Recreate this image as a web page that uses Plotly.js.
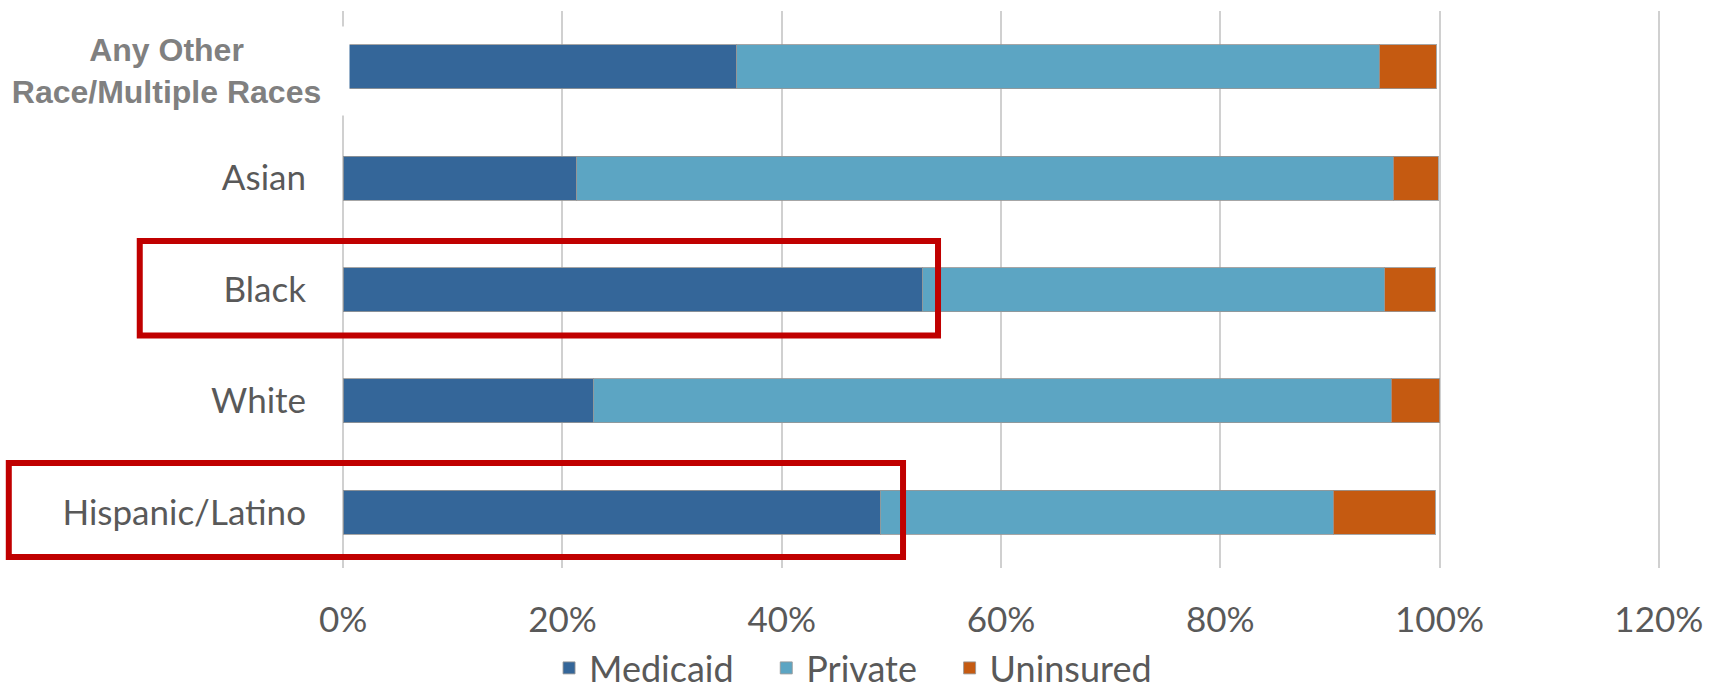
<!DOCTYPE html>
<html>
<head>
<meta charset="utf-8">
<script src="https://cdn.plot.ly/plotly-3.0.1.min.js"></script>
<style>html,body{margin:0;padding:0;background:#fff;}#chart{width:1719px;height:692px;}</style>
</head>
<body>
<div id="chart"></div>
<script>
// Categories (bottom to top)
const categories = ["Hispanic/Latino", "White", "Black", "Asian", "Any Other Race/Multiple Races"];
const medicaid  = [0.490, 0.228, 0.528, 0.213, 0.359];
const privateIns = [0.413, 0.728, 0.422, 0.745, 0.586];
const uninsured = [0.093, 0.044, 0.046, 0.041, 0.052];
const seriesNames = ["Medicaid", "Private", "Uninsured"];
const xTickVals = [0, 0.2, 0.4, 0.6, 0.8, 1.0, 1.2];
const xTickText = ["0%", "20%", "40%", "60%", "80%", "100%", "120%"];
const labelledCats = ["Hispanic/Latino", "White", "Black", "Asian"];
const boldLabel = "Any Other<br>Race/Multiple Races";

const FONT = "Lato, 'Open Sans', sans-serif";
const outline = {color: "rgba(150,150,150,0.85)", width: 1};
const pad = "\u00a0\u00a0\u00a0";

const traces = [
  {name: seriesNames[0] + pad, y: categories, x: medicaid, type: "bar", orientation: "h",
   marker: {color: "#346699", line: outline}, hoverinfo: "x+name"},
  {name: seriesNames[1] + pad, y: categories, x: privateIns, type: "bar", orientation: "h",
   marker: {color: "#5CA5C3", line: outline}, hoverinfo: "x+name"},
  {name: seriesNames[2], y: categories, x: uninsured, type: "bar", orientation: "h",
   marker: {color: "#C55A11", line: outline}, hoverinfo: "x+name"}
];

// x range slightly extended so edge gridlines (0% and 120%) are drawn
const EXT = 0.002;
const W = 1719, H = 692;
const X0PX = 343, X120PX = 1659;
const scale = (X120PX - X0PX) / 1.2;
const L = X0PX - EXT * scale, R = W - X120PX - EXT * scale, T = 11, B = 124;
const pw = W - L - R, ph = H - T - B;
function px2paperX(px) { return (px - L) / pw; }
function px2paperY(py) { return (H - B - py) / ph; }

const redBox = (x0, x1, y0, y1) => ({
  type: "rect", xref: "paper", yref: "paper",
  x0: px2paperX(x0), x1: px2paperX(x1), y0: px2paperY(y0), y1: px2paperY(y1),
  line: {color: "#C00000", width: 6}, fillcolor: "rgba(0,0,0,0)", layer: "above"
});

const layout = {
  width: W, height: H,
  margin: {l: L, r: R, t: T, b: B, pad: 0, autoexpand: false},
  paper_bgcolor: "#ffffff", plot_bgcolor: "#ffffff",
  barmode: "stack",
  bargap: 0.605,
  showlegend: true,
  legend: {orientation: "h", x: px2paperX(853), xanchor: "center",
           y: px2paperY(668), yanchor: "middle", borderwidth: 0,
           font: {family: FONT, size: 36, color: "#595959"},
           traceorder: "normal", itemwidth: 30},
  xaxis: {range: [-EXT, 1.2 + EXT], tickmode: "array", tickvals: xTickVals, ticktext: xTickText,
          showgrid: true, gridcolor: "#d0d0d0", gridwidth: 2, zeroline: false,
          showline: false, ticks: "", ticklabelstandoff: 28,
          tickfont: {family: FONT, size: 35, color: "#595959"}, fixedrange: true},
  yaxis: {type: "category", categoryorder: "array", categoryarray: categories,
          range: [-0.5, 4.5], tickmode: "array", tickvals: labelledCats, ticktext: labelledCats,
          showgrid: false, zeroline: false, showline: false, ticks: "", ticklabelstandoff: 34,
          tickfont: {family: FONT, size: 35, color: "#595959"}, fixedrange: true},
  annotations: [{
    text: "<b>" + boldLabel + "</b>", xref: "paper", yref: "y",
    x: px2paperX(166.5), y: 3.958, xanchor: "center", yanchor: "middle",
    showarrow: false, bgcolor: "#ffffff", width: 365, height: 88, borderpad: 0,
    align: "center", valign: "middle",
    font: {family: "'Liberation Sans', Arial, sans-serif", size: 32, color: "#808080"}
  }],
  shapes: [
    redBox(139.5, 938, 241, 335.5),
    redBox(8.5, 903, 463, 557)
  ]
};

Plotly.newPlot("chart", traces, layout, {displayModeBar: false, staticPlot: true});
</script>
</body>
</html>
